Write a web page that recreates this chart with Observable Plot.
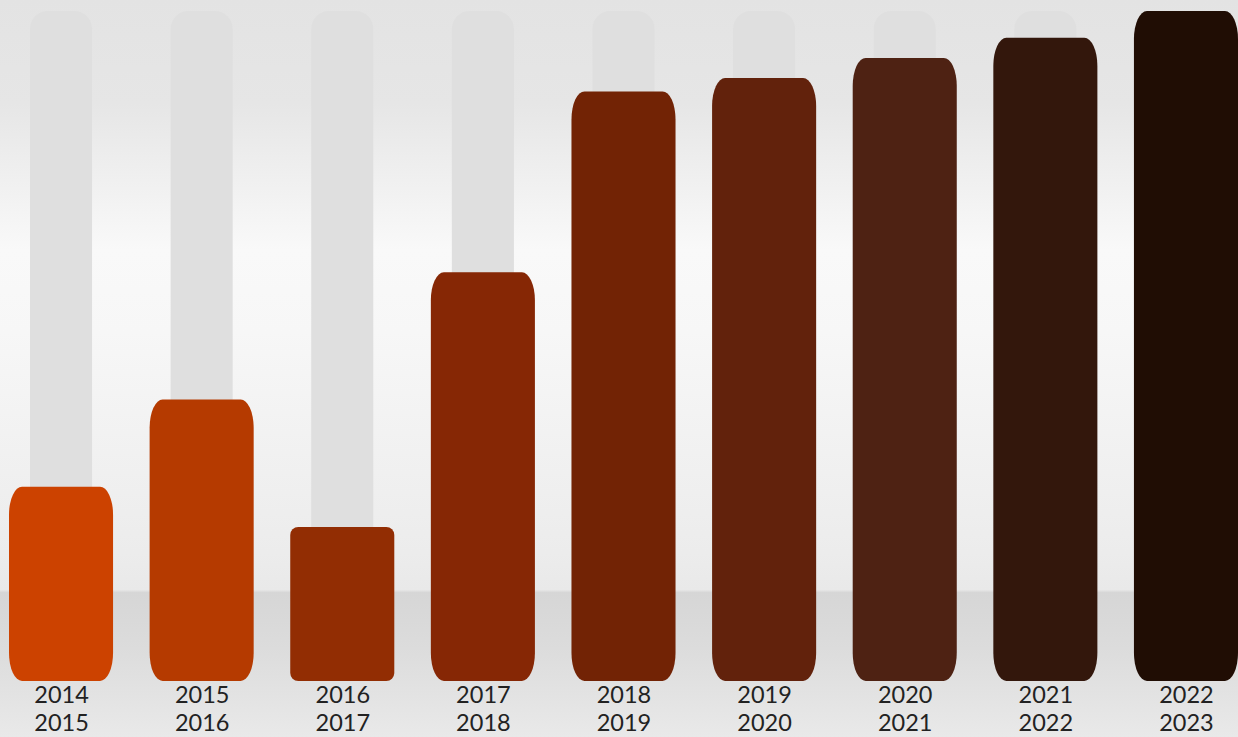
<!DOCTYPE html>
<html>
<head>
<meta charset="utf-8">
<script src="https://cdn.jsdelivr.net/npm/d3@7"></script>
<script src="https://cdn.jsdelivr.net/npm/@observablehq/plot@0.6"></script>
<style>
  html, body { margin: 0; padding: 0; overflow: hidden; }
  body { width: 1238px; height: 737px; }
</style>
</head>
<body>
<div id="chart"></div>
<script>
// Data
const periods = ["2014-2015", "2015-2016", "2016-2017", "2017-2018", "2018-2019", "2019-2020", "2020-2021", "2021-2022", "2022-2023"];
const values = [29, 42, 23, 61, 88, 90, 93, 96, 100];
const maxValue = 100;

// Palette (style, for the colour scale)
const palette = ["#cc4200", "#b53a00", "#922d03", "#862705", "#722305", "#62220c", "#4e2213", "#33170c", "#200d04"];

const data = periods.map((p, i) => ({period: p, value: values[i], full: maxValue}));

const bg = "linear-gradient(to bottom, #e3e3e3 0%, #e6e6e6 14%, #f9f9f9 34%, #f7f7f7 45%, #ececec 75%, #e9e9e9 80%, #d6d6d6 80.4%, #dcdcdc 88%, #e9e9e9 100%)";

const chart = Plot.plot({
  width: 1238,
  height: 737,
  marginLeft: 9,
  marginRight: 0,
  marginTop: 11,
  marginBottom: 56,
  style: {background: bg, fontFamily: "Lato, 'Open Sans', sans-serif", color: "#222"},
  x: {domain: periods, paddingInner: 0.26, paddingOuter: 0, round: false, label: null},
  y: {domain: [0, maxValue], axis: null},
  color: {domain: periods, range: palette},
  marks: [
    Plot.barY(data, {x: "period", y: "full", fill: "#dfdfdf", insetLeft: 21, insetRight: 21, rx: 18, ry: 18}),
    Plot.barY(data, {filter: d => d.value >= 25, x: "period", y: "value", fill: "period", rx: 13, ry: 28}),
    Plot.barY(data, {filter: d => d.value < 25, x: "period", y: "value", fill: "period", rx: 8, ry: 8}),
    Plot.axisX({
      tickSize: 0,
      tickPadding: 1,
      fontSize: 23.5,
      lineHeight: 1.2,
      label: null,
      tickFormat: d => d.replace("-", "\n"),
      fill: "#222"
    })
  ]
});
document.getElementById("chart").appendChild(chart);
</script>
</body>
</html>
